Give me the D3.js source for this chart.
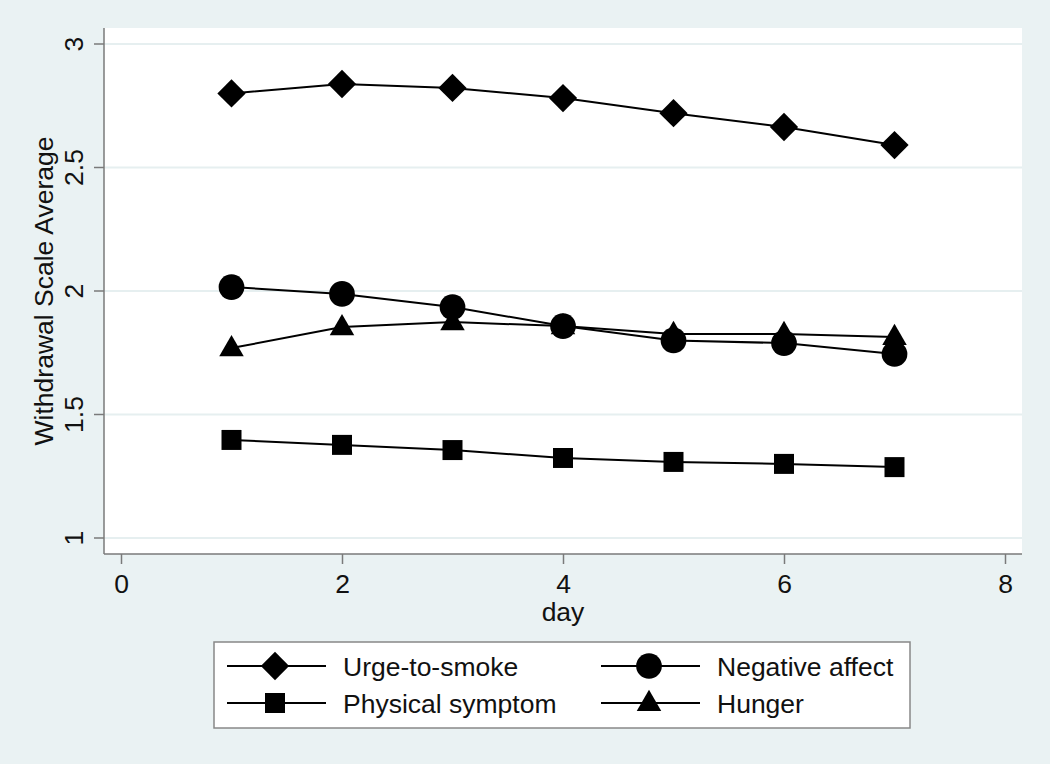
<!DOCTYPE html>
<html>
<head>
<meta charset="utf-8">
<script src="https://cdn.jsdelivr.net/npm/d3@7"></script>
<style>
  body { margin: 0; background: #eaf2f3; }
  svg { display: block; font-family: "Liberation Sans", Arial, sans-serif; }
</style>
</head>
<body>
<svg width="1050" height="764"></svg>
<script>
// data
var days = [1, 2, 3, 4, 5, 6, 7];
var urge = [2.80, 2.838, 2.822, 2.781, 2.72, 2.664, 2.591];
var negAffect = [2.016, 1.988, 1.935, 1.858, 1.80, 1.789, 1.745];
var physical = [1.397, 1.377, 1.356, 1.324, 1.308, 1.30, 1.287];
var hunger = [1.769, 1.854, 1.874, 1.858, 1.826, 1.826, 1.814];
var xTicks = [0, 2, 4, 6, 8];
var yTicks = [1, 1.5, 2, 2.5, 3];

var series = [
  { name: "Urge-to-smoke", values: urge, shape: "diamond" },
  { name: "Negative affect", values: negAffect, shape: "circle" },
  { name: "Physical symptom", values: physical, shape: "square" },
  { name: "Hunger", values: hunger, shape: "triangle" }
];

var svg = d3.select("svg");
var fs = 26.5;

// plot region
var plotL = 104, plotR = 1022, plotT = 28, plotB = 554;

var x = d3.scaleLinear().domain([0, 8]).range([121, 1005]);
var y = d3.scaleLinear().domain([1, 3]).range([538, 44]);

svg.append("rect")
  .attr("x", plotL).attr("y", plotT)
  .attr("width", plotR - plotL).attr("height", plotB - plotT)
  .attr("fill", "#fff");

// gridlines
svg.append("g").selectAll("line")
  .data(yTicks)
  .enter().append("line")
  .attr("x1", plotL).attr("x2", plotR)
  .attr("y1", d => y(d)).attr("y2", d => y(d))
  .attr("stroke", "#e6eff0").attr("stroke-width", 2);

// y axis
var yAxis = svg.append("g")
  .attr("transform", "translate(" + plotL + ",0)")
  .call(d3.axisLeft(y).tickValues(yTicks).tickSize(10).tickFormat(d3.format("")));
yAxis.select(".domain").attr("d", "M0," + plotT + "V" + plotB);
yAxis.selectAll(".tick").attr("transform", null);
yAxis.selectAll(".tick line")
  .attr("y1", d => y(d)).attr("y2", d => y(d));
yAxis.selectAll("text")
  .attr("font-size", fs).attr("fill", "#111")
  .attr("x", 0).attr("y", 0).attr("dy", 0)
  .attr("transform", d => "translate(-21," + y(d) + ") rotate(-90)")
  .attr("text-anchor", "middle");

// x axis
var xAxis = svg.append("g")
  .attr("transform", "translate(0," + plotB + ")")
  .call(d3.axisBottom(x).tickValues(xTicks).tickSize(10));
xAxis.select(".domain").attr("d", "M" + plotL + ",0H" + plotR);
xAxis.selectAll("text").attr("font-size", fs).attr("fill", "#111").attr("y", 39).attr("dy", 0);

svg.selectAll(".domain, .tick line").attr("stroke", "#7a7a7a").attr("stroke-width", 1.5);

// axis titles
svg.append("text")
  .attr("transform", "translate(53," + y(2) + ") rotate(-90)")
  .attr("text-anchor", "middle")
  .attr("font-size", fs).attr("fill", "#111")
  .text("Withdrawal Scale Average");

svg.append("text")
  .attr("x", x(4)).attr("y", 621)
  .attr("text-anchor", "middle")
  .attr("font-size", fs).attr("fill", "#111")
  .text("day");

// markers
function symbolFor(shape) {
  if (shape === "diamond") return d3.symbol().type(d3.symbolSquare).size(400)();
  if (shape === "circle") return d3.symbol().type(d3.symbolCircle).size(520)();
  if (shape === "square") return d3.symbol().type(d3.symbolSquare).size(400)();
  return d3.symbol().type(d3.symbolTriangle).size(260)();
}
function markerTransform(shape) {
  if (shape === "diamond") return " rotate(45)";
  if (shape === "triangle") return " translate(0,1)";
  return "";
}

var line = d3.line()
  .x((d, i) => x(days[i]))
  .y(d => y(d));

var g = svg.append("g");
series.forEach(function (s) {
  g.append("path")
    .attr("d", line(s.values))
    .attr("fill", "none")
    .attr("stroke", "#000")
    .attr("stroke-width", 2);
});
series.forEach(function (s) {
  g.append("g").selectAll("path")
    .data(s.values)
    .enter().append("path")
    .attr("d", symbolFor(s.shape))
    .attr("transform", (d, i) => "translate(" + x(days[i]) + "," + y(d) + ")" + markerTransform(s.shape))
    .attr("fill", "#000");
});

// legend
var legend = svg.append("g");
legend.append("rect")
  .attr("x", 214).attr("y", 642)
  .attr("width", 696).attr("height", 86)
  .attr("fill", "#fff").attr("stroke", "#888").attr("stroke-width", 1.5);

var legendPos = [
  { lx: 227, ly: 666 },
  { lx: 601, ly: 666 },
  { lx: 227, ly: 703 },
  { lx: 601, ly: 703 }
];
series.forEach(function (s, i) {
  var p = legendPos[i];
  legend.append("line")
    .attr("x1", p.lx).attr("x2", p.lx + 99)
    .attr("y1", p.ly).attr("y2", p.ly)
    .attr("stroke", "#000").attr("stroke-width", 2);
  legend.append("path")
    .attr("d", symbolFor(s.shape))
    .attr("transform", "translate(" + (p.lx + 48) + "," + p.ly + ")" + markerTransform(s.shape))
    .attr("fill", "#000");
  legend.append("text")
    .attr("x", p.lx + 116).attr("y", p.ly + 9.5)
    .attr("font-size", fs).attr("fill", "#111")
    .text(s.name);
});
</script>
</body>
</html>
